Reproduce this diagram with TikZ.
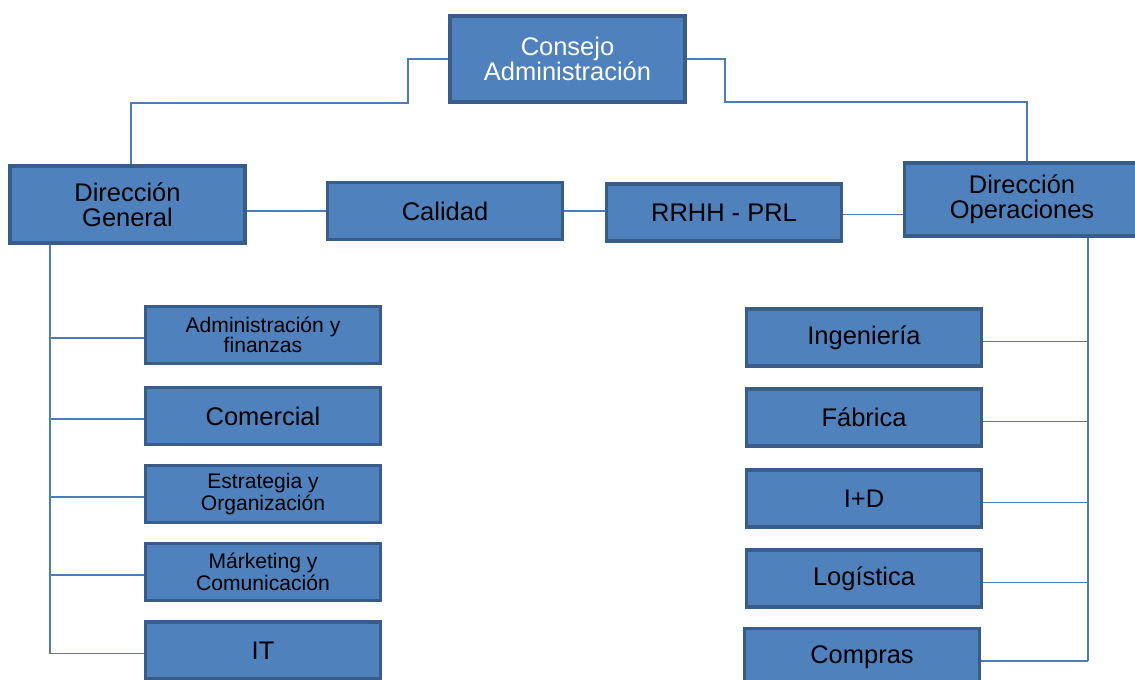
\documentclass[tikz,border=0pt]{standalone}
\usepackage{fontspec}
\setmainfont{Liberation Sans}
\definecolor{boxfill}{HTML}{4F81BD}
\definecolor{boxline}{HTML}{385D8A}
\definecolor{linkline}{HTML}{4A7EBB}
\tikzset{
    depto/.style={draw=boxline, line width=2pt, fill=boxfill, minimum width=4.7cm,
        minimum height=#1, inner sep=1pt, align=center,
        font=\fontsize{14.5pt}{14.2pt}\selectfont},
    depto/.default=1.14cm,
    small/.style={font=\fontsize{12pt}{11.3pt}\selectfont},
    link/.style={draw=linkline, line width=0.9pt}}

\begin{document}
\begin{tikzpicture}[x=0.02cm, y=-0.02cm]
        \useasboundingbox (0,0) rectangle (1135,679);
        \clip (0,0) rectangle (1135,679);

            % top and second level
            \node[depto=1.72cm, text=white] (consejo) at (567.5,59) {Consejo\\Administración};
            \node[depto=1.54cm] (dgen) at (127.5,204.5) {Dirección\\General};
            \node[depto] (calidad) at (445,211) {Calidad};
            \node[depto] (rrhh) at (724,212.5) {RRHH - PRL};
            \node[depto=1.46cm] (dop) at (1022,199.5) {Dirección\\Operaciones};

            % left column
            \node[depto, small] (admin) at (263,335) {Administración y\\finanzas};
            \node[depto] (comercial) at (263,416) {Comercial};
            \node[depto, small] (estrat) at (263,494) {Estrategia y\\Organización};
            \node[depto, small] (market) at (263,572) {Márketing y\\Comunicación};
            \node[depto] (it) at (263,650.5) {IT};

            % right column
            \node[depto] (inge) at (864,337.5) {Ingeniería};
            \node[depto] (fabrica) at (864,417.5) {Fábrica};
            \node[depto] (imasd) at (864,498.5) {I+D};
            \node[depto] (logis) at (864,578.5) {Logística};
            \node[depto] (compras) at (862,657) {Compras};

            \coordinate (lbus) at (50,653.5);
            \coordinate (rbus) at (1088,661);

            \draw[link] (consejo.west) -- ++(-40,0) |- (131,103) -- (dgen.north -| 131,0);
            \draw[link] (consejo.east) -- ++(38,0) |- (1027,102) -- (dop.north -| 1027,0);
            \draw[link] (calidad.west -| dgen.east) -- (calidad.west);
            \draw[link] (calidad.east) -- (calidad.east -| rrhh.west);
            \draw[link] ([yshift=-0.04cm]rrhh.east) -- ([yshift=-0.04cm]rrhh.east -| dop.west);

            \draw[link] (dgen.south -| lbus) -- (lbus);
            \foreach \n in {admin, comercial, estrat, market, it}
                \draw[link] ([yshift=-0.06cm]\n.west -| lbus) -- ([yshift=-0.06cm]\n.west);
            \draw[link] (dop.south -| rbus) -- (rbus);
            \foreach \n in {inge, fabrica, imasd, logis, compras}
                \draw[link] ([yshift=-0.08cm]\n.east) -- ([yshift=-0.08cm]\n.east -| rbus);

        \end{tikzpicture}
\end{document}
